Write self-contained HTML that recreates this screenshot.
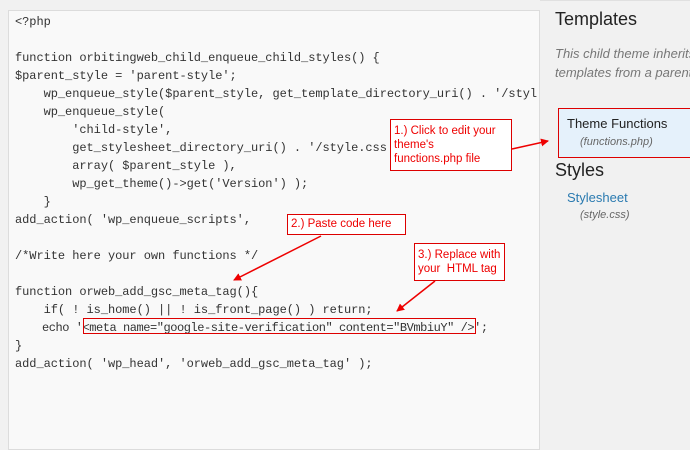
<!DOCTYPE html>
<html><head><meta charset="utf-8"><style>
body{margin:0;width:690px;height:436px;background:#f1f1f1;position:relative;overflow:hidden;font-family:"Liberation Sans",sans-serif}
.code{position:absolute;left:8px;top:10px;width:532px;height:440px;background:#f9f9f9;border:1px solid #dcdcdc;box-sizing:border-box}
.ln{position:absolute;left:15px;font-family:"Liberation Mono",monospace;font-size:12px;color:#333;white-space:pre;line-height:14px;letter-spacing:-0.05px}
.t{position:absolute;white-space:nowrap}
.cb{position:absolute;border:1px solid #d00;color:#e00;font-size:11.5px;line-height:14px;background:#fff;box-sizing:border-box;padding:2px 3px;white-space:nowrap}
</style></head><body>
<div class="code"></div>
<div style="position:absolute;left:540px;top:0;width:150px;height:1px;background:#e0e0e0"></div>
<div class="ln" style="top:15px">&lt;?php</div>
<div class="ln" style="top:51px">function orbitingweb_child_enqueue_child_styles() {</div>
<div class="ln" style="top:69px">$parent_style = 'parent-style';</div>
<div class="ln" style="top:87px">    wp_enqueue_style($parent_style, get_template_directory_uri() . '/styl</div>
<div class="ln" style="top:105px">    wp_enqueue_style(</div>
<div class="ln" style="top:123px">        'child-style',</div>
<div class="ln" style="top:141px">        get_stylesheet_directory_uri() . '/style.css</div>
<div class="ln" style="top:159px">        array( $parent_style ),</div>
<div class="ln" style="top:177px">        wp_get_theme()-&gt;get('Version') );</div>
<div class="ln" style="top:195px">    }</div>
<div class="ln" style="top:213px">add_action( 'wp_enqueue_scripts',</div>
<div class="ln" style="top:249px">/*Write here your own functions */</div>
<div class="ln" style="top:285px">function orweb_add_gsc_meta_tag(){</div>
<div class="ln" style="top:303px">    if( ! is_home() || ! is_front_page() ) return;</div>
<div class="ln" style="top:321px;letter-spacing:-0.45px">    echo '&lt;meta name="google-site-verification" content="BVmbiuY" /&gt;';</div>
<div class="ln" style="top:339px">}</div>
<div class="ln" style="top:357px">add_action( 'wp_head', 'orweb_add_gsc_meta_tag' );</div>
<div style="position:absolute;left:83px;top:318px;width:393px;height:16px;border:1px solid #d00;box-sizing:border-box"></div>

<div class="t" style="left:555px;top:9px;font-size:18px;color:#222">Templates</div>
<div class="t" style="left:555px;top:44px;font-size:13px;font-style:italic;color:#777;line-height:19px">This child theme inherits<br>templates from a parent</div>
<div style="position:absolute;left:558px;top:108px;width:140px;height:50px;background:#e5f1fb;border:1px solid #d00;box-sizing:border-box"></div>
<div class="t" style="left:567px;top:116px;font-size:13px;color:#222">Theme Functions</div>
<div class="t" style="left:580px;top:136px;font-size:11px;font-style:italic;color:#666">(functions.php)</div>
<div class="t" style="left:555px;top:160px;font-size:18px;color:#222">Styles</div>
<div class="t" style="left:567px;top:190px;font-size:13px;color:#2a7ab0">Stylesheet</div>
<div class="t" style="left:580px;top:209px;font-size:11px;font-style:italic;color:#666">(style.css)</div>

<div class="cb" style="left:390px;top:119px;width:122px;height:52px;line-height:14px;padding-top:4px">1.) Click to edit your<br>theme's<br>functions.php file</div>
<div class="cb" style="left:287px;top:214px;width:119px;height:21px">2.) Paste code here</div>
<div class="cb" style="left:414px;top:243px;width:91px;height:38px;padding-top:4px">3.) Replace with<br>your&nbsp; HTML tag</div>

<svg width="690" height="436" style="position:absolute;left:0;top:0">
<defs><marker id="a" markerWidth="8" markerHeight="8" refX="7" refY="4" orient="auto" markerUnits="userSpaceOnUse"><path d="M0,0 L8,4 L0,8z" fill="#e00"/></marker></defs>
<g stroke="#e00" stroke-width="1.5" fill="none" marker-end="url(#a)">
<line x1="512" y1="149" x2="548" y2="141"/>
<line x1="321" y1="236" x2="234" y2="280"/>
<line x1="435" y1="281" x2="397" y2="311"/>
</g></svg>
</body></html>
